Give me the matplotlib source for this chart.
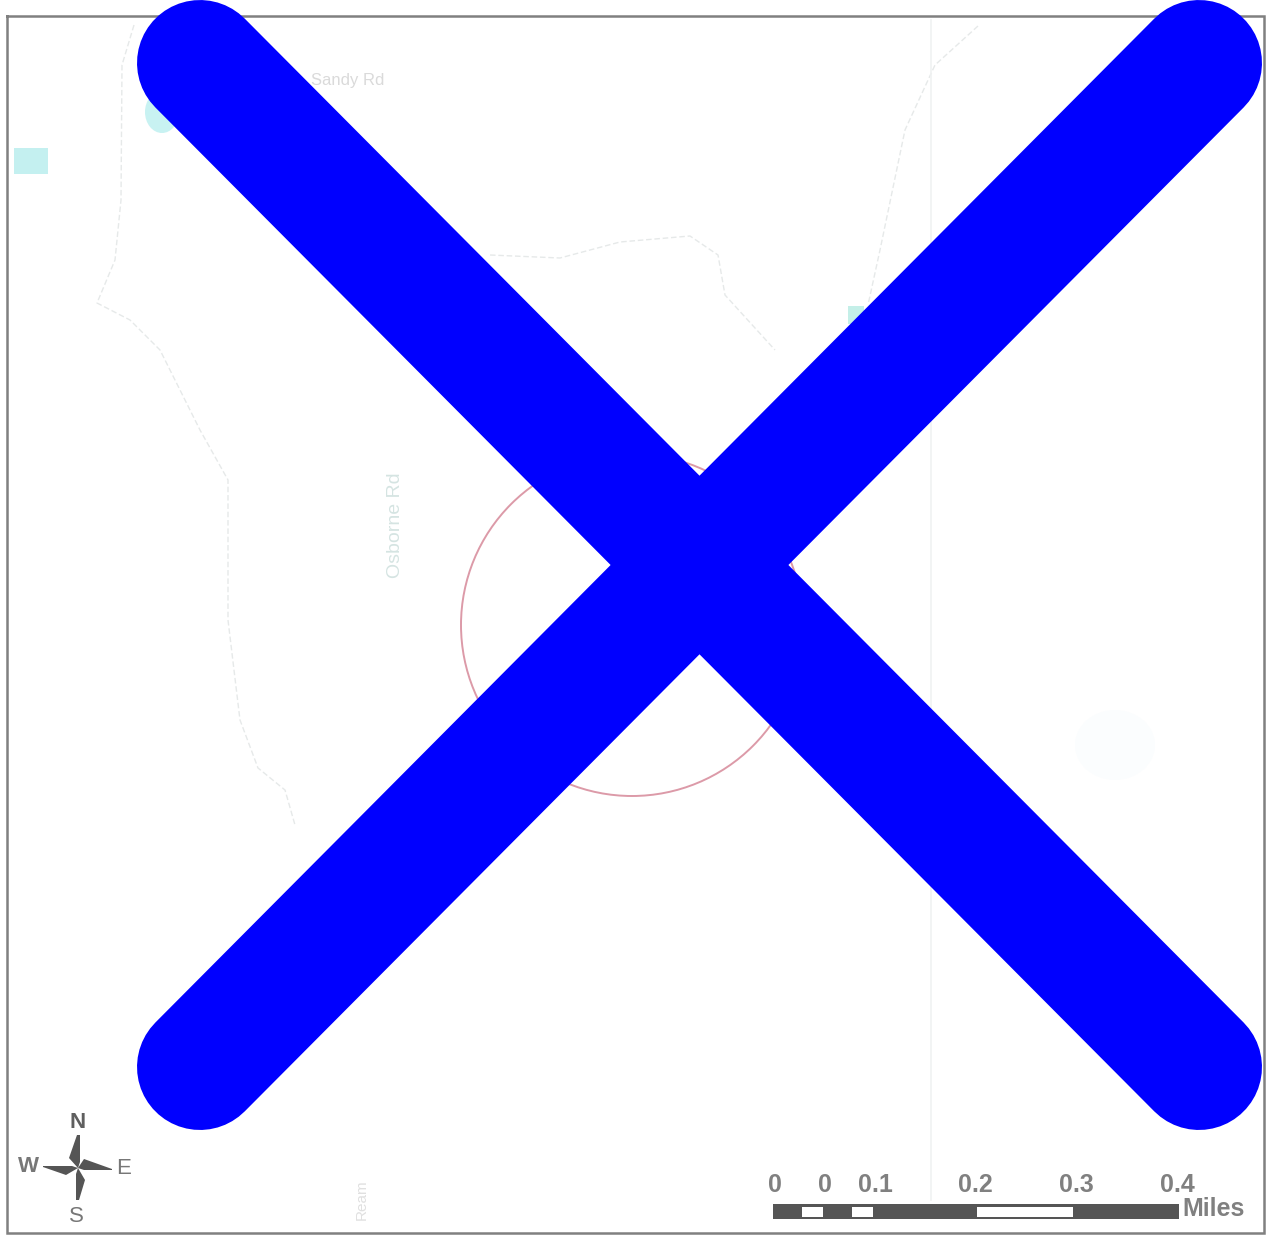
import matplotlib
matplotlib.use("Agg")
import matplotlib.pyplot as plt
from matplotlib.patches import Circle, Polygon, Rectangle, Ellipse

W, H = 1267, 1236
plt.rcParams['font.family'] = ['Liberation Sans', 'DejaVu Sans']

frame_x = [7, 1264, 1264, 7, 7]
frame_y = [16, 16, 1233, 1233, 16]

road_left_x = [134, 122, 121, 115, 97, 130, 160, 200, 228, 228, 240, 258, 285, 295]
road_left_y = [25, 65, 200, 260, 303, 320, 350, 430, 480, 620, 720, 768, 790, 825]
road_mid_x = [490, 560, 620, 690, 718, 725, 775]
road_mid_y = [255, 258, 242, 236, 255, 295, 350]
road_right_x = [978, 935, 905, 880, 868]
road_right_y = [26, 65, 130, 250, 305]
road_vert_x = [931, 931]
road_vert_y = [20, 1200]

ring_center = (632, 625)
ring_radius = 171

cross_a_x = [200, 1199]
cross_a_y = [63, 1067]
cross_b_x = [1199, 200]
cross_b_y = [63, 1067]

scale_ticks = ['0', '0', '0.1', '0.2', '0.3', '0.4']
scale_tick_x = [775, 825, 875, 975, 1076, 1177]
scale_white_left = [802, 852, 977]
scale_white_right = [823, 873, 1073]

road_names = ['Sandy Rd', 'Osborne Rd', 'Ream']

fig = plt.figure(figsize=(W / 100, H / 100), dpi=100)
ax = fig.add_axes([0, 0, 1, 1])
ax.set_xlim(0, W)
ax.set_ylim(H, 0)
ax.axis('off')

# water patches
ax.add_patch(Rectangle((14, 148), 34, 26, fc='#c4f0f0', ec='none'))
ax.add_patch(Ellipse((162, 112), 34, 42, fc='#c8f2f2', ec='none'))
ax.add_patch(Rectangle((848, 306), 16, 18, fc='#c4efe8', ec='none'))
ax.add_patch(Ellipse((1115, 745), 80, 70, fc='#fbfdfe', ec='none'))

# faint roads
for xs, ys in [(road_left_x, road_left_y), (road_mid_x, road_mid_y), (road_right_x, road_right_y)]:
    ax.plot(xs, ys, color='#e6e9e9', lw=1.0, ls=(0, (4, 2)), solid_joinstyle='round')
ax.plot(road_vert_x, road_vert_y, color='#f0f2f2', lw=1.2)

ax.text(348, 80, road_names[0], color='#dadada', fontsize=12, ha='center', va='center')
ax.text(396, 525, road_names[1], color='#d5e4e2', fontsize=14, rotation=90, ha='center', va='center')
ax.text(362, 1200, road_names[2], color='#e0e0e0', fontsize=11, rotation=90, ha='center', va='center')

# red ring
ax.add_patch(Circle(ring_center, ring_radius, fc='none', ec='#dc9aa8', lw=1.4))

# frame
ax.plot(frame_x, frame_y, color='#808080', lw=1.8, solid_joinstyle='miter')

# compass
cx, cy = 78, 1168
dark = '#555555'
for pts in [
    [(cx, cy), (cx - 9, cy - 10), (cx - 1, cy - 33), (cx + 2, cy - 33), (cx + 2, cy - 6)],
    [(cx, cy), (cx + 7, cy + 12), (cx + 1, cy + 32), (cx - 2, cy + 32), (cx - 2, cy + 6)],
    [(cx, cy), (cx - 12, cy + 7), (cx - 35, cy - 1), (cx - 35, cy - 2), (cx - 6, cy - 2)],
    [(cx, cy), (cx + 6, cy - 9), (cx + 34, cy + 1), (cx + 34, cy + 2), (cx + 6, cy + 2)],
]:
    ax.add_patch(Polygon(pts, closed=True, fc=dark, ec='none'))
for label, x, y in [('N', 78, 1122), ('S', 76, 1216), ('W', 28, 1166), ('E', 124, 1169)]:
    ax.text(x, y, label, color='#5f5f5f' if label == 'N' else '#777777', fontsize=16,
            ha='center', va='center', fontweight='bold' if label in 'NW' else 'normal')

# scale bar
ax.add_patch(Rectangle((773, 1204), 406, 15, fc=dark, ec='none'))
for l, r in zip(scale_white_left, scale_white_right):
    ax.add_patch(Rectangle((l, 1207), r - l, 10, fc='white', ec='none'))
for t, x in zip(scale_ticks, scale_tick_x):
    ax.text(x, 1185, t, color='#808080', fontsize=18, fontweight='bold', ha='center', va='center')
ax.text(1214, 1209, 'Miles', color='#808080', fontsize=18, fontweight='bold', ha='center', va='center')

# big blue cross
for xs, ys in [(cross_a_x, cross_a_y), (cross_b_x, cross_b_y)]:
    ax.plot(xs, ys, color='#0000ff', lw=126 * 72 / 100, solid_capstyle='round', zorder=10)

fig.savefig('out.png', dpi=100, facecolor='white')
